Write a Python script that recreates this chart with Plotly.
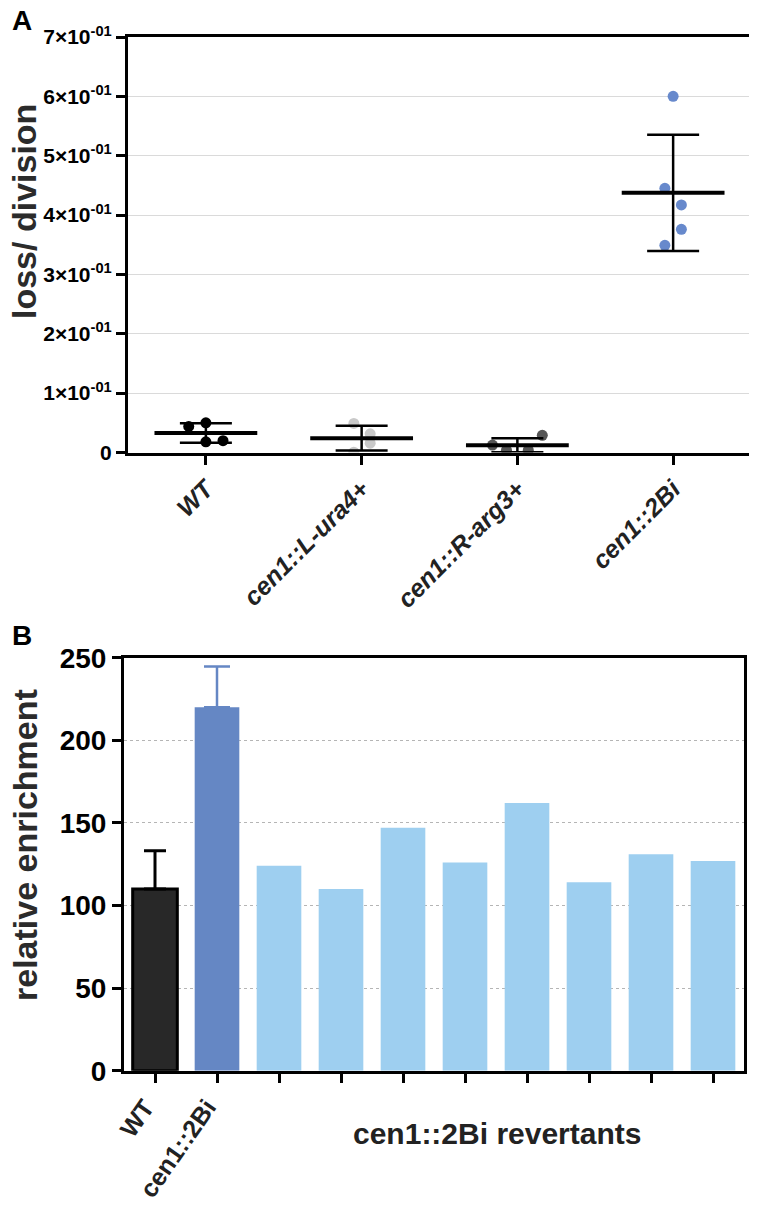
import numpy as np
import plotly.graph_objects as go

# page body has an 8px default margin; size the figure to fill the rest of the window
OFF = 8
W, H = 757 - OFF, 1215 - OFF

# ---------------- Panel A data ----------------
a_categories = ["WT", "cen1::L-ura4+", "cen1::R-arg3+", "cen1::2Bi"]
a_wt = [0.044, 0.050, 0.018, 0.020]
a_ura4 = [0.049, 0.0315, 0.0157, 0.0005]
a_arg3 = [0.0126, 0.029, 0.004, 0.004]
a_2bi = [0.600, 0.445, 0.417, 0.376, 0.349]
a_groups = [a_wt, a_ura4, a_arg3, a_2bi]
a_jitter = [[-0.11, 0.0, 0.0, 0.11],
            [-0.05, 0.055, 0.055, -0.05],
            [-0.16, 0.16, -0.07, 0.07],
            [0.0, -0.053, 0.053, 0.053, -0.053]]
a_colors = ["#000000", "#c9c9c9", "#555555", "#6789cc"]
a_tickvals = [0, 0.1, 0.2, 0.3, 0.4, 0.5, 0.6, 0.7]
a_ticktext = ["0"] + [f"{i}×10<sup>-01</sup>" for i in range(1, 8)]

# ---------------- Panel B data ----------------
b_categories = ["WT", "cen1::2Bi"] + [""] * 8
b_wt = [110]
b_wt_err = [23.2]
b_2bi = [220]
b_2bi_err = [24.6]
b_revertants = [124, 110, 147, 126, 162, 114, 131, 127]
b_tickvals = [0, 50, 100, 150, 200, 250]


def px_x(p):
    return (p - OFF) / W


def px_y(p):
    return 1 - (p - OFF) / H


FONT = "Liberation Sans, Arial, sans-serif"

fig = go.Figure()

# Panel A points
for gi, (vals, jit, col) in enumerate(zip(a_groups, a_jitter, a_colors)):
    fig.add_trace(go.Scatter(
        x=[gi + j for j in jit], y=vals, mode="markers",
        marker=dict(size=11, color=col, line=dict(width=0)),
        xaxis="x", yaxis="y", showlegend=False, hoverinfo="y"))

means = [float(np.mean(g)) for g in a_groups]
sds = [float(np.std(g, ddof=1)) for g in a_groups]

# error bars (SD)
fig.add_trace(go.Scatter(
    x=list(range(len(a_groups))), y=means, mode="markers",
    marker=dict(size=1, color="rgba(0,0,0,0)"),
    error_y=dict(type="data", array=sds, symmetric=True, color="black",
                 thickness=2.5, width=26),
    xaxis="x", yaxis="y", showlegend=False, hoverinfo="skip"))

# mean lines
mx, my = [], []
for gi, m in enumerate(means):
    mx += [gi - 0.33, gi + 0.33, None]
    my += [m, m, None]
fig.add_trace(go.Scatter(
    x=mx, y=my, mode="lines", line=dict(color="black", width=4),
    xaxis="x", yaxis="y", showlegend=False, hoverinfo="skip"))

# Panel B bars
fig.add_trace(go.Bar(
    x=[0], y=b_wt, width=0.72, marker=dict(color="#282828", line=dict(color="black", width=3)),
    error_y=dict(type="data", array=b_wt_err, arrayminus=[0], symmetric=False,
                 color="black", thickness=3, width=11),
    xaxis="x2", yaxis="y2", showlegend=False))
fig.add_trace(go.Bar(
    x=[1], y=b_2bi, width=0.72, marker=dict(color="#6587c4", line=dict(width=0)),
    error_y=dict(type="data", array=b_2bi_err, arrayminus=[0], symmetric=False,
                 color="#6587c4", thickness=2.5, width=13),
    xaxis="x2", yaxis="y2", showlegend=False))
fig.add_trace(go.Bar(
    x=list(range(2, 2 + len(b_revertants))), y=b_revertants, width=0.72,
    marker=dict(color="#9ecff0", line=dict(width=0)),
    xaxis="x2", yaxis="y2", showlegend=False))

axis_common = dict(showline=True, linewidth=3, linecolor="black", mirror=True,
                   ticks="outside", ticklen=9, tickwidth=3, tickcolor="black",
                   zeroline=False, automargin=False)

fig.update_layout(
    template="none",
    width=W, height=H, autosize=False,
    margin=dict(l=0, r=0, t=0, b=0, pad=0),
    paper_bgcolor="white", plot_bgcolor="white",
    barmode="overlay",
    font=dict(family=FONT, color="black"),
    xaxis=dict(domain=[px_x(128), px_x(751)], range=[-0.5, 3.5],
               tickvals=[0, 1, 2, 3], ticktext=a_categories, tickangle=-45,
               tickfont=dict(family=FONT, size=25, weight="bold", style="italic", color="#222"),
               showgrid=False, anchor="y", **axis_common),
    yaxis=dict(domain=[px_y(452.5), px_y(37)], range=[0, 0.7],
               tickvals=a_tickvals, ticktext=a_ticktext,
               tickfont=dict(family=FONT, size=21, weight="bold", color="black"),
               showgrid=True, gridcolor="#dadada", gridwidth=1, anchor="x",
               **axis_common),
    xaxis2=dict(domain=[px_x(124), px_x(744)], range=[-0.5, 9.5],
                tickvals=list(range(10)), ticktext=b_categories, tickangle=-55,
                ticklabelshift=-10,
                tickfont=dict(family=FONT, size=25, weight="bold", color="#222"),
                showgrid=False, anchor="y2", **axis_common),
    yaxis2=dict(domain=[px_y(1070.7), px_y(657.7)], range=[0, 250],
                tickvals=b_tickvals,
                tickfont=dict(family=FONT, size=28, weight="bold", color="black"),
                showgrid=True, gridcolor="#b5b5b5", gridwidth=1, griddash="dot",
                anchor="x2", **axis_common),
)

ann = [
    dict(text="A", x=px_x(10), y=px_y(20), xanchor="left", yanchor="middle",
         font=dict(size=28, weight="bold", color="black")),
    dict(text="B", x=px_x(10), y=px_y(635), xanchor="left", yanchor="middle",
         font=dict(size=28, weight="bold", color="black")),
    dict(text="loss/ division", x=px_x(24), y=px_y(212), textangle=-90,
         xanchor="center", yanchor="middle",
         font=dict(size=34, weight="bold", color="#2b2b2b")),
    dict(text="relative enrichment", x=px_x(25), y=px_y(845), textangle=-90,
         xanchor="center", yanchor="middle",
         font=dict(size=34, weight="bold", color="#2b2b2b")),
    dict(text="cen1::2Bi revertants", x=px_x(497), y=px_y(1133),
         xanchor="center", yanchor="middle",
         font=dict(size=30, weight="bold", color="#222")),
]
for a in ann:
    a.update(xref="paper", yref="paper", showarrow=False)
    a["font"]["family"] = FONT
fig.update_layout(annotations=ann)

fig.write_html("out.html")
